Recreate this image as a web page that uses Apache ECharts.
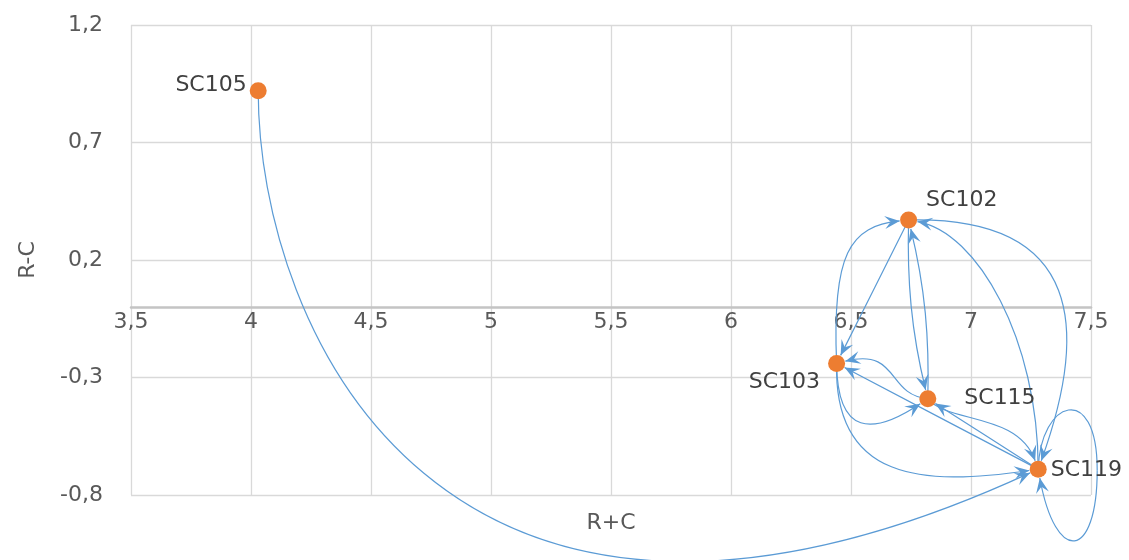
<!DOCTYPE html>
<html><head><meta charset="utf-8">
<script src="https://cdn.jsdelivr.net/npm/echarts@6/dist/echarts.min.js"></script>
<style>html,body{margin:0;padding:0;background:#fff}#c{width:1129px;height:560px}</style>
</head><body><div id="c"></div>
<script>
// ---- data ----
const nodeNames = ['SC102', 'SC103', 'SC105', 'SC115', 'SC119'];
const rPlusC = [6.74, 6.44, 4.03, 6.82, 7.28];
const rMinusC = [0.37, -0.24, 0.92, -0.39, -0.69];
const linkFrom = ['SC105', 'SC103', 'SC102', 'SC102', 'SC115', 'SC119', 'SC102', 'SC103', 'SC115', 'SC103', 'SC119', 'SC115', 'SC119', 'SC119'];
const linkTo   = ['SC119', 'SC102', 'SC103', 'SC115', 'SC102', 'SC102', 'SC119', 'SC115', 'SC103', 'SC119', 'SC103', 'SC119', 'SC115', 'SC119'];
const xAxisTitle = 'R+C';
const yAxisTitle = 'R-C';
const xMin = 3.5, xMax = 7.5, xStep = 0.5;
const yMin = -0.8, yMax = 1.2, yStep = 0.5;

// ---- style (curve shapes in a local frame, label placement) ----
const edgeShape = [
  [0.1207, 0.2487, 0.5269, 0.5766], // SC105->SC119
  [0.597, -0.333, 0.833, -0.263],   // SC103->SC102
  [0.333, 0.0, 0.667, 0.0],         // SC102->SC103
  [0.333, 0.045, 0.667, 0.045],     // SC102->SC115
  [0.333, 0.045, 0.667, 0.045],     // SC115->SC102
  [0.409, 0.213, 0.870, 0.172],     // SC119->SC102
  [0.277, -0.564, 0.670, -0.359],   // SC102->SC119
  [0.276, 0.690, 0.660, 0.481],     // SC103->SC115
  [0.409, -0.119, 0.533, 0.331],    // SC115->SC103
  [0.227, 0.461, 0.614, 0.282],     // SC103->SC119
  [0.333, 0.0, 0.667, 0.0],         // SC119->SC103
  [0.229, 0.080, 0.687, -0.242],    // SC115->SC119
  [0.333, 0.0, 0.667, 0.0],         // SC119->SC115
  { loop: [[2, -69, 59, -89, 59, 1], [59, 91, 16, 88, 0, 0]] } // SC119 self-loop (px)
];
const labelStyles = {
  SC102: { position: 'right', distance: 9, offset: [0, -20] },
  SC103: { position: 'left', distance: 8, offset: [0, 19] },
  SC105: { position: 'left', distance: 3, offset: [0, -6] },
  SC115: { position: 'right', distance: 28, offset: [0, 0] },
  SC119: { position: 'right', distance: 4, offset: [0, 1] }
};
const FONT = 'DejaVu Sans';
const FS = 22;
const EDGE_COLOR = '#5B9BD5';
const DOT_COLOR = '#ED7D31';
const GRID = { left: 131, right: 38, top: 25, bottom: 65 };

const idx = n => nodeNames.indexOf(n);
const edgeData = linkFrom.map((f, i) => {
  const a = idx(f), b = idx(linkTo[i]);
  return [rPlusC[a], rMinusC[a], rPlusC[b], rMinusC[b]];
});

function fmt(v) {
  return String(Number(v.toFixed(1))).replace('.', ',');
}

function renderEdge(params, api) {
  const i = params.dataIndex;
  const p0 = api.coord([api.value(0), api.value(1)]);
  const p3 = api.coord([api.value(2), api.value(3)]);
  const s = edgeShape[i];
  const segs = [];
  if (s.loop) {
    let start = p0;
    s.loop.forEach(o => {
      const c1 = [p0[0] + o[0], p0[1] + o[1]];
      const c2 = [p0[0] + o[2], p0[1] + o[3]];
      const e = [p0[0] + o[4], p0[1] + o[5]];
      segs.push([start, c1, c2, e]);
      start = e;
    });
  } else {
    const dx = p3[0] - p0[0], dy = p3[1] - p0[1];
    const L = Math.hypot(dx, dy);
    const ux = dx / L, uy = dy / L, vx = -uy, vy = ux;
    const c1 = [p0[0] + (s[0] * ux + s[1] * vx) * L, p0[1] + (s[0] * uy + s[1] * vy) * L];
    const c2 = [p0[0] + (s[2] * ux + s[3] * vx) * L, p0[1] + (s[2] * uy + s[3] * vy) * L];
    segs.push([p0, c1, c2, p3]);
  }
  const R = 9;
  const last = segs[segs.length - 1];
  const e = last[3], c = last[2];
  let tx = e[0] - c[0], ty = e[1] - c[1];
  const tl = Math.hypot(tx, ty); tx /= tl; ty /= tl;
  const tip = [e[0] - R * tx, e[1] - R * ty];
  last[3] = tip;
  last[2] = [c[0] - R * tx, c[1] - R * ty];
  const lineStyle = { fill: null, stroke: EDGE_COLOR, lineWidth: 1.2 };
  const children = segs.map(sg => ({
    type: 'bezierCurve',
    shape: { x1: sg[0][0], y1: sg[0][1], x2: sg[3][0], y2: sg[3][1],
             cpx1: sg[1][0], cpy1: sg[1][1], cpx2: sg[2][0], cpy2: sg[2][1] },
    style: lineStyle
  }));
  const AL = 15, AW = 6.5, px = -ty, py = tx;
  const pts = [
    tip,
    [tip[0] - AL * tx + AW * px, tip[1] - AL * ty + AW * py],
    [tip[0] - 0.6 * AL * tx, tip[1] - 0.6 * AL * ty],
    [tip[0] - AL * tx - AW * px, tip[1] - AL * ty - AW * py]
  ];
  children.push({ type: 'polygon', shape: { points: pts }, style: { fill: EDGE_COLOR, stroke: null } });
  return { type: 'group', children };
}

// place the x axis (line, labels, title) on the y = 0 line
const plotH = 560 - GRID.top - GRID.bottom;
const zeroOffset = -plotH * (0 - yMin) / (yMax - yMin);

const chart = echarts.init(document.getElementById('c'), null, { renderer: 'canvas' });
chart.setOption({
  animation: false,
  backgroundColor: '#fff',
  grid: Object.assign({ containLabel: false, outerBoundsMode: 'none' }, GRID),
  xAxis: {
    type: 'value', min: xMin, max: xMax, interval: xStep,
    offset: zeroOffset,
    name: xAxisTitle, nameLocation: 'middle', nameGap: 205,
    nameTextStyle: { fontFamily: FONT, fontSize: FS, color: '#595959' },
    axisLine: { show: true, onZero: false, lineStyle: { color: '#c4c4c4', width: 2.5 } },
    axisTick: { show: false },
    axisLabel: { formatter: fmt, fontFamily: FONT, fontSize: FS, color: '#595959', margin: 4 },
    splitLine: { show: true, lineStyle: { color: '#d9d9d9', width: 1.3 } }
  },
  yAxis: {
    type: 'value', min: yMin, max: yMax, interval: yStep,
    name: yAxisTitle, nameLocation: 'middle', nameGap: 92, nameRotate: 90,
    nameTextStyle: { fontFamily: FONT, fontSize: FS, color: '#595959' },
    axisLine: { show: false },
    axisTick: { show: false },
    axisLabel: { formatter: fmt, fontFamily: FONT, fontSize: FS, color: '#595959', margin: 28 },
    splitLine: { show: true, lineStyle: { color: '#d9d9d9', width: 1.3 } }
  },
  series: [
    {
      type: 'custom',
      coordinateSystem: 'cartesian2d',
      clip: false,
      z: 2,
      encode: { x: [0, 2], y: [1, 3] },
      data: edgeData,
      renderItem: renderEdge
    },
    {
      type: 'scatter',
      z: 3,
      symbolSize: 17,
      itemStyle: { color: DOT_COLOR, opacity: 1 },
      label: { show: true, formatter: '{b}', fontFamily: FONT, fontSize: FS, color: '#404040' },
      data: nodeNames.map((n, i) => ({ name: n, value: [rPlusC[i], rMinusC[i]], label: labelStyles[n] }))
    }
  ]
});
</script>
</body></html>
